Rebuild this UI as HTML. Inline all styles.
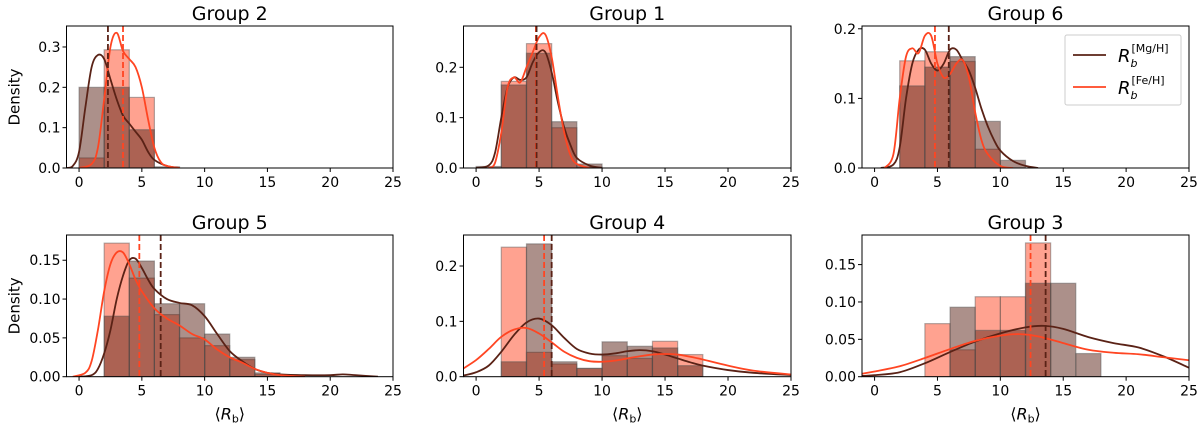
<!DOCTYPE html>
<html><head><meta charset="utf-8"><style>
body{margin:0;background:#fff;}
svg text{font-family:"DejaVu Sans","Liberation Sans",sans-serif;fill:#000;}
</style></head><body>
<svg id="chart" width="1200" height="426" viewBox="0 0 1200 426" xmlns="http://www.w3.org/2000/svg"></svg>
<script>
const panelTitles=["Group 2","Group 1","Group 6","Group 5","Group 4","Group 3"];
const yMaxes=[0.352,0.282,0.204,0.1825,0.256,0.1896];
const yTickVals=[[0,0.1,0.2,0.3],[0,0.1,0.2],[0,0.1,0.2],[0,0.05,0.10,0.15],[0,0.1,0.2],[0,0.05,0.10,0.15]];
const yTickLabels=[["0.0","0.1","0.2","0.3"],["0.0","0.1","0.2"],["0.0","0.1","0.2"],["0.00","0.05","0.10","0.15"],["0.0","0.1","0.2"],["0.00","0.05","0.10","0.15"]];
const xTicks=[0,5,10,15,20,25];
const binEdgesStart=0, binWidth=2;
const mgHist=[
[0.2,0.2,0.095,0.003],
[0.003,0.165,0.228,0.092,0.008],
[0,0.118,0.145,0.16,0.067,0.011],
[0,0.078,0.149,0.094,0.094,0.055,0.025,0.005],
[0,0.027,0.24,0.027,0.015,0.063,0.055,0.052,0.02],
[0,0,0,0.093,0.062,0.062,0.125,0.125,0.031]];
const feHist=[
[0.025,0.293,0.175,0],
[0,0.172,0.247,0.08,0.002],
[0,0.154,0.167,0.153,0.027,0],
[0,0.172,0.127,0.08,0.05,0.04,0.022,0.003],
[0,0.234,0.044,0.023,0.015,0.038,0.033,0.064,0.04],
[0,0,0.071,0.036,0.107,0.107,0.179,0,0]];
const mgMean=[2.3,4.8,5.9,6.5,6.0,13.6];
const feMean=[3.5,4.75,4.8,4.8,5.4,12.4];
const mgKdeX=[
[-1,-0.5,0,0.5,1,1.5,2,2.5,3,3.5,4,4.5,5,5.5,6,7,8],
[0,1,1.5,2,2.5,3,3.5,4,4.5,5,5.5,6,6.5,7,7.5,8,9,10],
[0.5,1.5,2,2.5,3,3.5,4,4.5,5,5.5,6,6.5,7,7.5,8,8.5,9,9.5,10,11,12,13],
[0,1,1.5,2,2.5,3,3.5,4,4.5,5,5.5,6,7,8,9,10,11,12,13,14,15,16,18,20,21,22,23.8],
[-1,0,1,2,3,4,5,6,7,8,9,10,11,12,13,14,15,16,17,18,20,22,25],
[-1,0,2,4,6,8,10,12,13.5,15,17,19,21,23,25]];
const mgKdeY=[
[0,0.005,0.04,0.15,0.25,0.28,0.27,0.22,0.17,0.13,0.11,0.09,0.07,0.04,0.02,0.005,0],
[0,0.005,0.03,0.1,0.16,0.18,0.175,0.18,0.21,0.23,0.23,0.19,0.13,0.08,0.045,0.02,0.005,0],
[0,0.005,0.03,0.1,0.15,0.17,0.17,0.15,0.14,0.15,0.17,0.17,0.155,0.14,0.115,0.085,0.06,0.04,0.025,0.01,0.003,0],
[0,0.002,0.01,0.03,0.06,0.1,0.13,0.15,0.152,0.14,0.125,0.113,0.1,0.095,0.092,0.078,0.055,0.033,0.02,0.01,0.005,0.003,0.002,0.002,0.003,0.002,0],
[0.002,0.008,0.02,0.045,0.075,0.098,0.105,0.093,0.07,0.05,0.042,0.04,0.042,0.046,0.048,0.046,0.04,0.033,0.026,0.02,0.012,0.007,0.003],
[0.001,0.002,0.006,0.018,0.033,0.047,0.058,0.066,0.068,0.064,0.053,0.045,0.039,0.027,0.012]];
const feKdeX=[
[0,1,1.5,2,2.5,3,3.5,4,4.5,5,5.5,6,6.5,7,8],
[1,1.5,2,2.5,3,3.5,4,4.5,5,5.5,6,6.5,7,7.5,8,9],
[0.8,1.5,2,2.5,3,3.5,4,4.5,5,5.5,6,6.5,7,7.5,8,8.5,9,10,11],
[-0.5,0.5,1,1.5,2,2.5,3,3.5,4,4.5,5,6,7,8,9,10,11,12,13,14,15,16,18],
[-1,0,1,2,3,4,5,6,7,8,9,10,11,12,13,14,15,16,17,18,20,22,25],
[-1,0,2,4,6,8,10,11.5,13,15,17,19,21,23,25]];
const feKdeY=[
[0,0.01,0.05,0.17,0.3,0.335,0.29,0.27,0.25,0.2,0.12,0.05,0.015,0.005,0],
[0,0.01,0.07,0.16,0.18,0.17,0.2,0.23,0.26,0.265,0.22,0.14,0.07,0.025,0.008,0],
[0,0.02,0.1,0.16,0.172,0.165,0.19,0.19,0.15,0.13,0.135,0.15,0.155,0.13,0.08,0.04,0.02,0.003,0],
[0,0.005,0.02,0.06,0.11,0.145,0.16,0.16,0.145,0.125,0.11,0.088,0.075,0.066,0.055,0.048,0.035,0.025,0.018,0.01,0.005,0.002,0],
[0.015,0.03,0.05,0.072,0.085,0.088,0.078,0.062,0.045,0.034,0.028,0.027,0.029,0.033,0.037,0.04,0.041,0.04,0.036,0.031,0.02,0.011,0.004],
[0.004,0.007,0.014,0.025,0.037,0.048,0.055,0.057,0.054,0.045,0.036,0.032,0.03,0.026,0.022]];

const NS="http://www.w3.org/2000/svg";
const svg=document.getElementById('chart');
const MG="#5a2216", FE="#ff4522";
const colsX=[[66.5,393],[463.5,791],[862,1189]];
const rowsY=[[26,168],[235,376.7]];
const XMIN=-1,XMAX=25;
function mk(tag,attrs,parent){const e=document.createElementNS(NS,tag);for(const k in attrs)e.setAttribute(k,attrs[k]);(parent||svg).appendChild(e);return e;}
function smooth(pts){let d=`M${pts[0][0]},${pts[0][1]}`;for(let i=0;i<pts.length-1;i++){const p0=pts[Math.max(0,i-1)],p1=pts[i],p2=pts[i+1],p3=pts[Math.min(pts.length-1,i+2)];const c1x=p1[0]+(p2[0]-p0[0])/6,c1y=p1[1]+(p2[1]-p0[1])/6,c2x=p2[0]-(p3[0]-p1[0])/6,c2y=p2[1]-(p3[1]-p1[1])/6;d+=` C${c1x},${c1y} ${c2x},${c2y} ${p2[0]},${p2[1]}`;}return d;}

for(let p=0;p<6;p++){
  const r=Math.floor(p/3),c=p%3;
  const [L,R]=colsX[c],[T,B]=rowsY[r];
  const xs=v=>L+(v-XMIN)/(XMAX-XMIN)*(R-L);
  const ys=v=>B-v/yMaxes[p]*(B-T);
  const g=mk('g',{});
  
  
  const clipId='clip'+p;
  const cp=mk('clipPath',{id:clipId},g);mk('rect',{x:L,y:T,width:R-L,height:B-T},cp);
  const inner=mk('g',{'clip-path':`url(#${clipId})`},g);
  [[feHist[p],FE,'fe'],[mgHist[p],MG,'mg']].forEach(([h,col,nm])=>{
    h.forEach((v,i)=>{
      if(v<=0)return;
      const x0=binEdgesStart+i*binWidth;
      const rc=mk('rect',{x:xs(x0),y:ys(v),width:xs(x0+binWidth)-xs(x0),height:ys(0)-ys(v),fill:col,'fill-opacity':0.5,stroke:'#555','stroke-opacity':0.45,'stroke-width':1.2},inner);
      
      
    });
  });
  [[mgKdeX[p],mgKdeY[p],MG,'mg'],[feKdeX[p],feKdeY[p],FE,'fe']].forEach(([X,Y,col,nm])=>{
    const pts=X.map((x,i)=>[xs(x),ys(Y[i])]);
    const pa=mk('path',{d:smooth(pts),fill:'none',stroke:col,'stroke-width':1.8},inner);
    
    
  });
  [[feMean[p],FE,'fe'],[mgMean[p],MG,'mg']].forEach(([m,col,nm])=>{
    const ln=mk('line',{x1:xs(m),x2:xs(m),y1:T,y2:B,stroke:col,'stroke-width':1.8,'stroke-dasharray':'6,3'},inner);
    
    
  });
  const fr=mk('rect',{x:L,y:T,width:R-L,height:B-T,fill:'none',stroke:'#000','stroke-width':1},g);
  
  
  xTicks.forEach(t=>{
    mk('line',{x1:xs(t),x2:xs(t),y1:B,y2:B+4,stroke:'#000'},g);
    const tx=mk('text',{x:xs(t),y:B+19,'text-anchor':'middle','font-size':14},g);
    tx.textContent=t;
    
    
  });
  yTickVals[p].forEach((t,i)=>{
    mk('line',{x1:L-4,x2:L,y1:ys(t),y2:ys(t),stroke:'#000'},g);
    const ty=mk('text',{x:L-6,y:ys(t)+5,'text-anchor':'end','font-size':14},g);
    ty.textContent=yTickLabels[p][i];
    
    
  });
  const tt=mk('text',{x:(L+R)/2,y:T-6,'text-anchor':'middle','font-size':19},g);
  tt.textContent=panelTitles[p];
  
  
  if(c===0){
    const yl=mk('text',{x:0,y:0,'text-anchor':'middle','font-size':15,transform:`translate(${L-47},${(T+B)/2}) rotate(-90)`},g);
    yl.textContent='Density';
    
    
  }
  if(r===1){
    const xl=mk('text',{x:(L+R)/2,y:B+43,'text-anchor':'middle','font-size':16},g);
    xl.innerHTML='⟨<tspan font-style="italic">R</tspan><tspan font-size="11" dy="3">b</tspan><tspan dy="-3">⟩</tspan>';
    
    
  }
}
const lg=mk('g',{});


mk('rect',{x:1065,y:35,width:116,height:70,rx:2,fill:'#fff',stroke:'#ccc','stroke-width':1},lg);
[[MG,'[Mg/H]',55],[FE,'[Fe/H]',87]].forEach(([col,sup,y])=>{
  mk('line',{x1:1073,x2:1106,y1:y,y2:y,stroke:col,'stroke-width':1.8},lg);
  const t=mk('text',{x:1118,y:y+7,'font-size':18},lg);
  t.innerHTML=`<tspan font-style="italic">R</tspan><tspan font-size="11" font-style="italic" dy="5">b</tspan><tspan font-size="11" dx="-6" dy="-15">${sup}</tspan>`;
  
  
});
</script>
</body></html>
